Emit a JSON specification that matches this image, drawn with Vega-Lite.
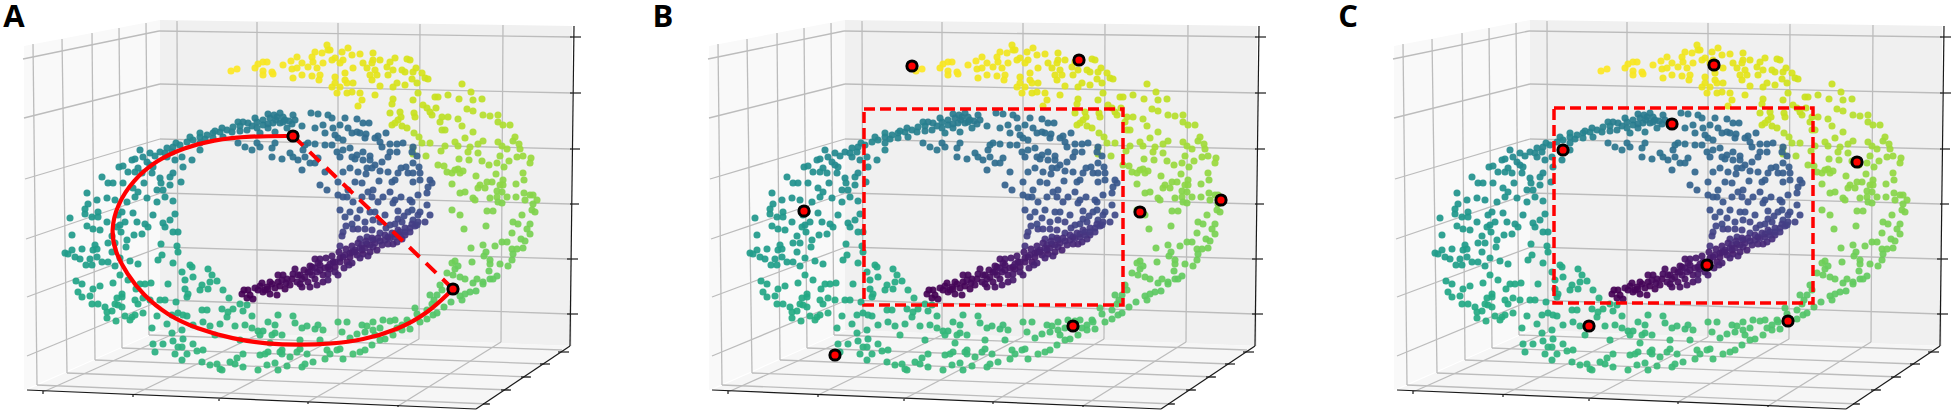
{"$schema":"https://vega.github.io/schema/vega-lite/v6.json","padding":0,"spacing":0,"background":"white","config":{"view":{"stroke":null}},
"datasets":{
"panes":[
{"pane":"left","x":24,"y":46,"y2":390},{"pane":"left","x":160,"y":20,"y2":330},
{"pane":"back","x":160,"y":20,"y2":330},{"pane":"back","x":572,"y":26,"y2":346},
{"pane":"floor","x":27,"y":390,"y2":390},{"pane":"floor","x":162,"y":330,"y2":396},{"pane":"floor","x":476,"y":342,"y2":409},{"pane":"floor","x":570,"y":346,"y2":346}],
"grid":[
{"x":159,"y":31,"x2":572,"y2":37},{"x":160,"y":84,"x2":572,"y2":93},{"x":160,"y":139,"x2":571,"y2":149},{"x":160,"y":193,"x2":571,"y2":204},{"x":161,"y":247,"x2":570,"y2":259},{"x":162,"y":300,"x2":570,"y2":314},
{"x":177,"y":21,"x2":178,"y2":332},{"x":257,"y":22,"x2":257,"y2":335},{"x":338,"y":23,"x2":338,"y2":337},{"x":420,"y":24,"x2":419,"y2":339},{"x":503,"y":25,"x2":501,"y2":342},
{"x":159,"y":31,"x2":23,"y2":59},{"x":160,"y":84,"x2":24,"y2":118},{"x":160,"y":139,"x2":25,"y2":179},{"x":161,"y":193,"x2":26,"y2":239},{"x":161,"y":247,"x2":27,"y2":297},{"x":162,"y":300,"x2":27,"y2":356},
{"x":33,"y":44,"x2":37,"y2":385},{"x":62,"y":39,"x2":67,"y2":373},{"x":92,"y":33,"x2":95,"y2":360},{"x":119,"y":28,"x2":122,"y2":348},{"x":146,"y":23,"x2":149,"y2":335},
{"x":43,"y":392,"x2":178,"y2":332},{"x":133,"y":395,"x2":257,"y2":335},{"x":219,"y":399,"x2":338,"y2":337},{"x":308,"y":402,"x2":419,"y2":339},{"x":398,"y":406,"x2":501,"y2":342},
{"x":149,"y":335,"x2":562,"y2":350},{"x":122,"y":348,"x2":545,"y2":364},{"x":95,"y":360,"x2":530,"y2":377},{"x":67,"y":373,"x2":510,"y2":390},{"x":37,"y":385,"x2":489,"y2":404}],
"axes":[
{"x":27,"y":390,"x2":476,"y2":409},{"x":476,"y":409,"x2":570,"y2":346},{"x":570,"y":346,"x2":574,"y2":26},
{"x":570,"y":37,"x2":581,"y2":37},{"x":570,"y":93,"x2":581,"y2":93},{"x":570,"y":149,"x2":580,"y2":149},{"x":570,"y":204,"x2":579,"y2":204},{"x":567,"y":259,"x2":578,"y2":259},{"x":567,"y":314,"x2":578,"y2":314},
{"x":558,"y":352,"x2":569,"y2":352},{"x":540,"y":364,"x2":550,"y2":364},{"x":521,"y":377,"x2":531,"y2":377},{"x":501,"y":390,"x2":511,"y2":390},{"x":483,"y":404,"x2":490,"y2":404},
{"x":43,"y":391,"x2":43,"y2":394},{"x":133,"y":395,"x2":133,"y2":397},{"x":219,"y":399,"x2":219,"y2":401},{"x":308,"y":402,"x2":308,"y2":404},{"x":398,"y":405,"x2":398,"y2":407}],
"swiss":[
{"x":231,"y":71,"t":1},{"x":237,"y":69,"t":1},{"x":255,"y":68,"t":0.99},{"x":258,"y":64,"t":0.99},{"x":263,"y":62,"t":0.99},{"x":267,"y":62,"t":0.99},{"x":263,"y":71,"t":0.99},{"x":263,"y":75,"t":0.99},{"x":272,"y":72,"t":0.99},{"x":273,"y":74,"t":0.99},{"x":283,"y":65,"t":0.99},{"x":291,"y":61,"t":0.99},{"x":297,"y":57,"t":0.98},{"x":292,"y":69,"t":0.98},{"x":297,"y":68,"t":0.98},{"x":302,"y":63,"t":0.98},{"x":293,"y":78,"t":0.98},{"x":302,"y":75,"t":0.98},{"x":308,"y":67,"t":0.98},{"x":312,"y":57,"t":0.98},{"x":315,"y":52,"t":0.98},{"x":322,"y":53,"t":0.98},{"x":312,"y":76,"t":0.98},{"x":320,"y":75,"t":0.98},{"x":319,"y":80,"t":0.98},{"x":317,"y":68,"t":0.98},{"x":313,"y":62,"t":0.98},{"x":323,"y":63,"t":0.98},{"x":328,"y":50,"t":0.97},{"x":327,"y":45,"t":0.97},
{"x":348,"y":48,"t":0.97},{"x":342,"y":52,"t":0.97},{"x":335,"y":58,"t":0.97},{"x":343,"y":60,"t":0.97},{"x":352,"y":55,"t":0.97},{"x":360,"y":54,"t":0.97},{"x":363,"y":63,"t":0.96},{"x":367,"y":68,"t":0.96},{"x":373,"y":53,"t":0.96},{"x":373,"y":60,"t":0.96},{"x":380,"y":60,"t":0.96},{"x":372,"y":63,"t":0.96},{"x":375,"y":70,"t":0.96},{"x":370,"y":75,"t":0.96},{"x":372,"y":80,"t":0.96},{"x":377,"y":75,"t":0.96},{"x":387,"y":67,"t":0.95},{"x":390,"y":62,"t":0.95},{"x":395,"y":58,"t":0.95},{"x":393,"y":70,"t":0.95},{"x":388,"y":75,"t":0.95},{"x":407,"y":59,"t":0.94},{"x":410,"y":60,"t":0.94},{"x":402,"y":70,"t":0.94},{"x":405,"y":72,"t":0.94},{"x":416,"y":68,"t":0.94},{"x":413,"y":72,"t":0.94},{"x":422,"y":73,"t":0.94},{"x":412,"y":79,"t":0.94},{"x":417,"y":83,"t":0.93},{"x":425,"y":78,"t":0.93},{"x":428,"y":79,"t":0.93},{"x":397,"y":83,"t":0.94},{"x":393,"y":87,"t":0.94},{"x":405,"y":85,"t":0.94},{"x":380,"y":86,"t":0.95},{"x":375,"y":95,"t":0.95},{"x":347,"y":83,"t":0.97},{"x":345,"y":80,"t":0.97},{"x":335,"y":77,"t":0.97},{"x":335,"y":83,"t":0.97},{"x":337,"y":93,"t":0.97},{"x":347,"y":93,"t":0.96},{"x":353,"y":83,"t":0.96},{"x":352,"y":92,"t":0.96},{"x":360,"y":93,"t":0.96},{"x":362,"y":100,"t":0.96},{"x":358,"y":106,"t":0.96},{"x":345,"y":73,"t":0.97},{"x":353,"y":68,"t":0.97},{"x":332,"y":87,"t":0.97},{"x":340,"y":87,"t":0.97},{"x":332,"y":60,"t":0.97},{"x":340,"y":63,"t":0.97},{"x":330,"y":50,"t":0.97},
{"x":393,"y":99,"t":0.93},{"x":392,"y":104,"t":0.93},{"x":390,"y":113,"t":0.92},{"x":400,"y":112,"t":0.92},{"x":401,"y":117,"t":0.92},{"x":398,"y":120,"t":0.92},{"x":392,"y":125,"t":0.92},{"x":395,"y":123,"t":0.92},{"x":402,"y":126,"t":0.91},{"x":407,"y":128,"t":0.91},{"x":414,"y":113,"t":0.92},{"x":415,"y":117,"t":0.92},{"x":413,"y":100,"t":0.92},{"x":418,"y":93,"t":0.92},{"x":423,"y":105,"t":0.92},{"x":427,"y":108,"t":0.91},{"x":430,"y":112,"t":0.91},{"x":432,"y":115,"t":0.91},{"x":436,"y":108,"t":0.91},{"x":435,"y":97,"t":0.92},{"x":438,"y":97,"t":0.92},{"x":448,"y":95,"t":0.91},{"x":459,"y":99,"t":0.91},{"x":462,"y":84,"t":0.92},{"x":471,"y":92,"t":0.91},{"x":473,"y":100,"t":0.9},{"x":482,"y":99,"t":0.9},{"x":467,"y":109,"t":0.9},{"x":473,"y":111,"t":0.9},{"x":442,"y":117,"t":0.9},{"x":448,"y":117,"t":0.9},{"x":440,"y":122,"t":0.9},{"x":458,"y":119,"t":0.89},{"x":462,"y":126,"t":0.89},{"x":442,"y":130,"t":0.89},{"x":445,"y":130,"t":0.89},{"x":483,"y":115,"t":0.89},{"x":490,"y":116,"t":0.89},{"x":498,"y":115,"t":0.89},{"x":498,"y":122,"t":0.88},{"x":503,"y":125,"t":0.88},{"x":510,"y":125,"t":0.88},{"x":473,"y":132,"t":0.88},{"x":465,"y":138,"t":0.88},{"x":455,"y":142,"t":0.88},{"x":458,"y":146,"t":0.87},{"x":445,"y":146,"t":0.87},{"x":441,"y":151,"t":0.87},{"x":414,"y":133,"t":0.89},{"x":419,"y":137,"t":0.89},{"x":422,"y":143,"t":0.88},{"x":430,"y":143,"t":0.88},{"x":413,"y":148,"t":0.88},{"x":413,"y":154,"t":0.87},{"x":426,"y":156,"t":0.87},{"x":470,"y":147,"t":0.87},{"x":468,"y":152,"t":0.87},{"x":478,"y":144,"t":0.87},{"x":483,"y":141,"t":0.87},{"x":498,"y":142,"t":0.87},{"x":502,"y":146,"t":0.86},{"x":507,"y":149,"t":0.86},{"x":515,"y":137,"t":0.87},{"x":513,"y":141,"t":0.86},{"x":519,"y":144,"t":0.86},{"x":520,"y":149,"t":0.86},{"x":517,"y":157,"t":0.85},{"x":523,"y":156,"t":0.85},{"x":531,"y":158,"t":0.85},{"x":530,"y":163,"t":0.85},{"x":500,"y":156,"t":0.85},{"x":478,"y":153,"t":0.86},{"x":482,"y":161,"t":0.85},{"x":469,"y":160,"t":0.85},{"x":459,"y":159,"t":0.85},{"x":509,"y":161,"t":0.85},{"x":489,"y":165,"t":0.85},{"x":497,"y":163,"t":0.85},{"x":504,"y":167,"t":0.84},
{"x":438,"y":165,"t":0.85},{"x":444,"y":166,"t":0.85},{"x":447,"y":172,"t":0.84},{"x":452,"y":173,"t":0.84},{"x":455,"y":170,"t":0.84},{"x":458,"y":169,"t":0.84},{"x":463,"y":171,"t":0.84},{"x":460,"y":173,"t":0.84},{"x":476,"y":176,"t":0.84},{"x":496,"y":174,"t":0.84},{"x":523,"y":173,"t":0.84},{"x":524,"y":180,"t":0.83},{"x":452,"y":184,"t":0.83},{"x":480,"y":185,"t":0.83},{"x":487,"y":182,"t":0.83},{"x":492,"y":182,"t":0.83},{"x":485,"y":188,"t":0.83},{"x":478,"y":188,"t":0.83},{"x":503,"y":180,"t":0.83},{"x":500,"y":185,"t":0.83},{"x":503,"y":185,"t":0.83},{"x":497,"y":191,"t":0.82},{"x":502,"y":192,"t":0.82},{"x":516,"y":184,"t":0.83},{"x":460,"y":193,"t":0.82},{"x":465,"y":192,"t":0.82},{"x":473,"y":198,"t":0.82},{"x":475,"y":200,"t":0.82},{"x":490,"y":198,"t":0.82},{"x":497,"y":197,"t":0.82},{"x":507,"y":197,"t":0.82},{"x":516,"y":197,"t":0.82},{"x":524,"y":193,"t":0.82},{"x":530,"y":195,"t":0.82},{"x":533,"y":195,"t":0.82},{"x":537,"y":200,"t":0.82},{"x":525,"y":200,"t":0.82},{"x":533,"y":204,"t":0.81},{"x":498,"y":202,"t":0.81},{"x":502,"y":203,"t":0.81},
{"x":452,"y":210,"t":0.81},{"x":460,"y":215,"t":0.81},{"x":487,"y":211,"t":0.81},{"x":493,"y":211,"t":0.81},{"x":532,"y":210,"t":0.81},{"x":535,"y":212,"t":0.81},{"x":522,"y":215,"t":0.81},{"x":513,"y":222,"t":0.8},{"x":518,"y":224,"t":0.8},{"x":530,"y":224,"t":0.8},{"x":527,"y":229,"t":0.8},{"x":530,"y":234,"t":0.8},{"x":464,"y":229,"t":0.8},{"x":486,"y":226,"t":0.8},{"x":512,"y":233,"t":0.8},{"x":521,"y":239,"t":0.79},{"x":525,"y":241,"t":0.79},{"x":483,"y":245,"t":0.79},{"x":495,"y":246,"t":0.79},{"x":502,"y":242,"t":0.79},{"x":507,"y":242,"t":0.79},{"x":512,"y":249,"t":0.79},{"x":517,"y":249,"t":0.79},{"x":523,"y":248,"t":0.79},{"x":471,"y":248,"t":0.79},{"x":486,"y":252,"t":0.78},{"x":484,"y":256,"t":0.78},{"x":513,"y":254,"t":0.78},{"x":512,"y":260,"t":0.78},{"x":500,"y":264,"t":0.78},{"x":508,"y":266,"t":0.78},{"x":490,"y":260,"t":0.78},{"x":490,"y":264,"t":0.78},{"x":472,"y":262,"t":0.78},{"x":455,"y":261,"t":0.78},{"x":452,"y":263,"t":0.78},{"x":455,"y":269,"t":0.77},{"x":458,"y":266,"t":0.77},{"x":489,"y":271,"t":0.77},{"x":447,"y":273,"t":0.77},{"x":453,"y":275,"t":0.77},{"x":460,"y":277,"t":0.77},{"x":465,"y":279,"t":0.77},{"x":477,"y":279,"t":0.77},{"x":473,"y":283,"t":0.76},{"x":483,"y":282,"t":0.76},{"x":483,"y":284,"t":0.76},{"x":490,"y":279,"t":0.76},{"x":493,"y":279,"t":0.76},{"x":497,"y":276,"t":0.76},{"x":442,"y":290,"t":0.75},{"x":476,"y":291,"t":0.75},{"x":470,"y":292,"t":0.75},{"x":465,"y":294,"t":0.75},{"x":460,"y":296,"t":0.75},{"x":462,"y":300,"t":0.75},{"x":451,"y":302,"t":0.74},{"x":437,"y":295,"t":0.74},{"x":434,"y":300,"t":0.74},{"x":432,"y":304,"t":0.74},{"x":444,"y":307,"t":0.74},{"x":437,"y":313,"t":0.73},{"x":427,"y":310,"t":0.73},{"x":433,"y":315,"t":0.73},{"x":417,"y":314,"t":0.73},{"x":427,"y":319,"t":0.73},{"x":420,"y":322,"t":0.73},{"x":407,"y":320,"t":0.72},{"x":402,"y":325,"t":0.72},{"x":410,"y":329,"t":0.72},{"x":397,"y":328,"t":0.72},{"x":390,"y":321,"t":0.72},{"x":383,"y":320,"t":0.71},{"x":373,"y":322,"t":0.71},{"x":380,"y":328,"t":0.71},{"x":367,"y":326,"t":0.71},{"x":362,"y":325,"t":0.7},{"x":347,"y":322,"t":0.7},{"x":338,"y":322,"t":0.7},{"x":342,"y":332,"t":0.7},{"x":357,"y":334,"t":0.7},{"x":365,"y":332,"t":0.7},{"x":373,"y":330,"t":0.71},{"x":393,"y":335,"t":0.72},{"x":385,"y":339,"t":0.71},{"x":380,"y":340,"t":0.71},{"x":372,"y":345,"t":0.7},{"x":365,"y":350,"t":0.7},{"x":360,"y":352,"t":0.7},{"x":353,"y":354,"t":0.7},{"x":343,"y":359,"t":0.69},{"x":337,"y":350,"t":0.69},{"x":330,"y":354,"t":0.69},{"x":340,"y":349,"t":0.69},{"x":402,"y":330,"t":0.72},{"x":408,"y":322,"t":0.72},
{"x":327,"y":350,"t":0.69},{"x":325,"y":359,"t":0.69},{"x":313,"y":362,"t":0.68},{"x":302,"y":367,"t":0.68},{"x":297,"y":352,"t":0.68},{"x":307,"y":354,"t":0.68},{"x":287,"y":366,"t":0.68},{"x":278,"y":370,"t":0.67},{"x":275,"y":363,"t":0.67},{"x":267,"y":365,"t":0.67},{"x":258,"y":370,"t":0.67},{"x":260,"y":355,"t":0.67},{"x":268,"y":352,"t":0.67},{"x":280,"y":352,"t":0.67},{"x":282,"y":350,"t":0.67},{"x":243,"y":367,"t":0.66},{"x":235,"y":364,"t":0.66},{"x":237,"y":358,"t":0.66},{"x":222,"y":370,"t":0.66},{"x":217,"y":364,"t":0.66},{"x":210,"y":365,"t":0.66},{"x":202,"y":362,"t":0.65},{"x":203,"y":350,"t":0.65},{"x":197,"y":351,"t":0.65},{"x":187,"y":354,"t":0.64},{"x":182,"y":360,"t":0.64},{"x":175,"y":354,"t":0.64},{"x":178,"y":347,"t":0.64},{"x":182,"y":347,"t":0.64},{"x":193,"y":344,"t":0.64},{"x":173,"y":341,"t":0.63},{"x":163,"y":344,"t":0.63},{"x":153,"y":344,"t":0.63},{"x":155,"y":352,"t":0.63},{"x":172,"y":333,"t":0.63},{"x":182,"y":330,"t":0.63},{"x":183,"y":339,"t":0.63},{"x":152,"y":328,"t":0.62},{"x":167,"y":324,"t":0.62},{"x":157,"y":316,"t":0.62},{"x":178,"y":313,"t":0.62},{"x":183,"y":315,"t":0.62},{"x":187,"y":316,"t":0.62},{"x":203,"y":322,"t":0.63},{"x":210,"y":326,"t":0.64},{"x":220,"y":324,"t":0.64},{"x":202,"y":310,"t":0.63},{"x":207,"y":310,"t":0.63},{"x":222,"y":309,"t":0.63},{"x":227,"y":317,"t":0.64},{"x":228,"y":312,"t":0.64},{"x":233,"y":309,"t":0.64},{"x":243,"y":311,"t":0.64},{"x":247,"y":305,"t":0.64},{"x":240,"y":304,"t":0.64},{"x":252,"y":316,"t":0.65},{"x":235,"y":326,"t":0.65},{"x":245,"y":325,"t":0.65},{"x":252,"y":328,"t":0.66},{"x":258,"y":331,"t":0.66},{"x":263,"y":331,"t":0.66},{"x":268,"y":322,"t":0.66},{"x":275,"y":325,"t":0.66},{"x":278,"y":315,"t":0.66},{"x":293,"y":316,"t":0.67},{"x":295,"y":323,"t":0.67},{"x":302,"y":328,"t":0.68},{"x":307,"y":326,"t":0.68},{"x":315,"y":329,"t":0.68},{"x":318,"y":325,"t":0.68},{"x":323,"y":330,"t":0.69},{"x":260,"y":335,"t":0.66},{"x":272,"y":335,"t":0.67},{"x":275,"y":333,"t":0.67},{"x":282,"y":335,"t":0.67},{"x":290,"y":357,"t":0.68},{"x":305,"y":364,"t":0.68},{"x":300,"y":349,"t":0.68},{"x":282,"y":354,"t":0.67},{"x":265,"y":354,"t":0.67},{"x":230,"y":362,"t":0.66},{"x":243,"y":354,"t":0.66},{"x":220,"y":369,"t":0.66},
{"x":187,"y":297,"t":0.61},{"x":188,"y":294,"t":0.61},{"x":185,"y":289,"t":0.6},{"x":185,"y":280,"t":0.6},{"x":182,"y":272,"t":0.6},{"x":190,"y":265,"t":0.6},{"x":192,"y":267,"t":0.6},{"x":193,"y":277,"t":0.6},{"x":208,"y":269,"t":0.6},{"x":212,"y":275,"t":0.61},{"x":210,"y":282,"t":0.61},{"x":217,"y":281,"t":0.61},{"x":202,"y":285,"t":0.61},{"x":200,"y":290,"t":0.61},{"x":208,"y":289,"t":0.61},{"x":223,"y":290,"t":0.62},{"x":229,"y":298,"t":0.63},{"x":176,"y":302,"t":0.61},{"x":168,"y":284,"t":0.6},{"x":173,"y":263,"t":0.59},{"x":162,"y":255,"t":0.58},{"x":158,"y":260,"t":0.58},{"x":178,"y":252,"t":0.58},{"x":177,"y":246,"t":0.57},{"x":161,"y":244,"t":0.57},{"x":151,"y":283,"t":0.6},{"x":145,"y":284,"t":0.6},{"x":140,"y":284,"t":0.6},{"x":136,"y":289,"t":0.6},{"x":143,"y":298,"t":0.61},{"x":138,"y":304,"t":0.61},{"x":122,"y":294,"t":0.6},{"x":122,"y":297,"t":0.6},{"x":117,"y":298,"t":0.6},{"x":118,"y":305,"t":0.61},{"x":115,"y":304,"t":0.61},{"x":122,"y":307,"t":0.61},{"x":113,"y":283,"t":0.59},{"x":100,"y":286,"t":0.59},{"x":93,"y":289,"t":0.59},{"x":90,"y":296,"t":0.59},{"x":82,"y":284,"t":0.58},{"x":76,"y":281,"t":0.58},{"x":78,"y":292,"t":0.59},{"x":82,"y":297,"t":0.59},{"x":92,"y":304,"t":0.6},{"x":98,"y":304,"t":0.6},{"x":105,"y":307,"t":0.6},{"x":107,"y":312,"t":0.61},{"x":112,"y":311,"t":0.61},{"x":107,"y":318,"t":0.61},{"x":116,"y":321,"t":0.62},{"x":125,"y":316,"t":0.62},{"x":132,"y":317,"t":0.62},{"x":135,"y":315,"t":0.62},{"x":143,"y":313,"t":0.62},{"x":130,"y":320,"t":0.62},
{"x":138,"y":264,"t":0.57},{"x":130,"y":261,"t":0.57},{"x":126,"y":247,"t":0.56},{"x":115,"y":266,"t":0.56},{"x":108,"y":262,"t":0.56},{"x":102,"y":262,"t":0.56},{"x":97,"y":257,"t":0.55},{"x":93,"y":250,"t":0.55},{"x":95,"y":245,"t":0.55},{"x":97,"y":249,"t":0.55},{"x":90,"y":259,"t":0.55},{"x":86,"y":265,"t":0.56},{"x":92,"y":265,"t":0.56},{"x":82,"y":249,"t":0.55},{"x":80,"y":259,"t":0.55},{"x":75,"y":257,"t":0.55},{"x":72,"y":250,"t":0.55},{"x":65,"y":253,"t":0.55},{"x":68,"y":254,"t":0.55},{"x":72,"y":235,"t":0.54},{"x":70,"y":218,"t":0.53},{"x":85,"y":214,"t":0.53},{"x":87,"y":226,"t":0.54},{"x":93,"y":229,"t":0.54},{"x":100,"y":230,"t":0.54},{"x":92,"y":217,"t":0.53},{"x":98,"y":217,"t":0.53},{"x":85,"y":209,"t":0.53},{"x":98,"y":212,"t":0.53},{"x":107,"y":222,"t":0.53},{"x":117,"y":227,"t":0.54},{"x":121,"y":232,"t":0.54},{"x":127,"y":240,"t":0.55},{"x":134,"y":235,"t":0.54},{"x":142,"y":234,"t":0.54},{"x":125,"y":222,"t":0.53},{"x":137,"y":222,"t":0.53},{"x":148,"y":227,"t":0.54},{"x":145,"y":224,"t":0.53},{"x":153,"y":215,"t":0.52},{"x":133,"y":213,"t":0.52},{"x":122,"y":212,"t":0.52},{"x":163,"y":223,"t":0.53},{"x":165,"y":227,"t":0.53},{"x":170,"y":220,"t":0.53},{"x":175,"y":214,"t":0.52},{"x":178,"y":232,"t":0.54},{"x":173,"y":232,"t":0.54},{"x":108,"y":243,"t":0.55},{"x":112,"y":252,"t":0.55},{"x":120,"y":258,"t":0.56},{"x":118,"y":215,"t":0.52},
{"x":87,"y":193,"t":0.51},{"x":102,"y":177,"t":0.5},{"x":108,"y":183,"t":0.5},{"x":113,"y":183,"t":0.5},{"x":107,"y":198,"t":0.51},{"x":97,"y":200,"t":0.51},{"x":88,"y":204,"t":0.52},{"x":123,"y":183,"t":0.5},{"x":119,"y":167,"t":0.49},{"x":123,"y":166,"t":0.49},{"x":132,"y":160,"t":0.48},{"x":135,"y":159,"t":0.48},{"x":138,"y":168,"t":0.48},{"x":135,"y":172,"t":0.49},{"x":142,"y":173,"t":0.49},{"x":152,"y":173,"t":0.48},{"x":153,"y":167,"t":0.48},{"x":147,"y":162,"t":0.47},{"x":150,"y":153,"t":0.47},{"x":143,"y":157,"t":0.47},{"x":160,"y":178,"t":0.48},{"x":170,"y":177,"t":0.48},{"x":173,"y":173,"t":0.47},{"x":181,"y":182,"t":0.48},{"x":170,"y":185,"t":0.49},{"x":161,"y":183,"t":0.49},{"x":133,"y":188,"t":0.5},{"x":144,"y":183,"t":0.49},{"x":138,"y":192,"t":0.5},{"x":147,"y":198,"t":0.5},{"x":157,"y":190,"t":0.49},{"x":163,"y":190,"t":0.49},{"x":157,"y":202,"t":0.51},{"x":173,"y":201,"t":0.5},{"x":165,"y":197,"t":0.5},{"x":127,"y":202,"t":0.51},{"x":135,"y":197,"t":0.51},
{"x":160,"y":152,"t":0.46},{"x":167,"y":148,"t":0.46},{"x":173,"y":147,"t":0.45},{"x":180,"y":145,"t":0.45},{"x":187,"y":142,"t":0.45},{"x":193,"y":140,"t":0.45},{"x":200,"y":137,"t":0.44},{"x":207,"y":135,"t":0.44},{"x":213,"y":133,"t":0.44},{"x":220,"y":132,"t":0.44},{"x":227,"y":130,"t":0.43},{"x":233,"y":127,"t":0.43},{"x":240,"y":126,"t":0.43},{"x":248,"y":123,"t":0.42},{"x":257,"y":122,"t":0.42},{"x":263,"y":120,"t":0.42},{"x":270,"y":118,"t":0.41},{"x":277,"y":117,"t":0.41},{"x":283,"y":117,"t":0.41},{"x":273,"y":123,"t":0.41},{"x":257,"y":128,"t":0.42},{"x":263,"y":125,"t":0.42},{"x":280,"y":123,"t":0.41},{"x":283,"y":122,"t":0.41},{"x":293,"y":115,"t":0.4},{"x":295,"y":120,"t":0.4},{"x":287,"y":128,"t":0.41},{"x":275,"y":132,"t":0.41},{"x":260,"y":133,"t":0.42},{"x":247,"y":130,"t":0.42},{"x":182,"y":157,"t":0.46},{"x":175,"y":160,"t":0.46},{"x":192,"y":160,"t":0.46},{"x":200,"y":150,"t":0.45},{"x":183,"y":167,"t":0.47},{"x":200,"y":143,"t":0.44},{"x":213,"y":138,"t":0.44},{"x":223,"y":137,"t":0.43},{"x":167,"y":157,"t":0.46},{"x":240,"y":131,"t":0.42},{"x":232,"y":132,"t":0.43},{"x":205,"y":139,"t":0.44},{"x":268,"y":124,"t":0.41},{"x":252,"y":126,"t":0.42},{"x":276,"y":120,"t":0.41},{"x":289,"y":121,"t":0.4},
{"x":215,"y":131,"t":0.44},{"x":222,"y":128,"t":0.43},{"x":243,"y":122,"t":0.42},{"x":268,"y":114,"t":0.41},{"x":274,"y":115,"t":0.41},{"x":255,"y":118,"t":0.42},{"x":280,"y":113,"t":0.41},{"x":285,"y":120,"t":0.41},{"x":292,"y":124,"t":0.4},{"x":268,"y":128,"t":0.41},{"x":238,"y":122,"t":0.43},{"x":200,"y":133,"t":0.45},{"x":190,"y":137,"t":0.45},{"x":176,"y":143,"t":0.46},{"x":165,"y":153,"t":0.46},{"x":155,"y":156,"t":0.47},{"x":150,"y":165,"t":0.47},{"x":172,"y":152,"t":0.46},
{"x":120,"y":225,"t":0.53},{"x":112,"y":236,"t":0.54},{"x":115,"y":243,"t":0.55},{"x":120,"y":275,"t":0.59},{"x":128,"y":280,"t":0.59},{"x":135,"y":300,"t":0.61},{"x":150,"y":300,"t":0.61},{"x":160,"y":300,"t":0.61},{"x":115,"y":200,"t":0.51},{"x":128,"y":172,"t":0.49},{"x":140,"y":150,"t":0.47},{"x":165,"y":300,"t":0.61},{"x":172,"y":315,"t":0.62},{"x":193,"y":325,"t":0.63},{"x":215,"y":335,"t":0.65},{"x":240,"y":340,"t":0.65},{"x":270,"y":343,"t":0.67},{"x":300,"y":340,"t":0.68},{"x":320,"y":340,"t":0.68},{"x":350,"y":338,"t":0.69},{"x":375,"y":335,"t":0.71},{"x":395,"y":320,"t":0.72},{"x":415,"y":308,"t":0.73},{"x":440,"y":285,"t":0.75},{"x":430,"y":295,"t":0.74},
{"x":238,"y":143,"t":0.39},{"x":245,"y":147,"t":0.39},{"x":252,"y":150,"t":0.39},{"x":260,"y":147,"t":0.38},{"x":257,"y":143,"t":0.38},{"x":272,"y":148,"t":0.38},{"x":275,"y":143,"t":0.38},{"x":272,"y":157,"t":0.37},{"x":282,"y":159,"t":0.37},{"x":290,"y":153,"t":0.37},{"x":293,"y":157,"t":0.37},{"x":298,"y":160,"t":0.36},{"x":311,"y":113,"t":0.39},{"x":318,"y":114,"t":0.39},{"x":328,"y":115,"t":0.39},{"x":323,"y":125,"t":0.38},{"x":315,"y":128,"t":0.38},{"x":302,"y":126,"t":0.39},{"x":305,"y":145,"t":0.37},{"x":308,"y":143,"t":0.37},{"x":315,"y":144,"t":0.37},{"x":325,"y":133,"t":0.37},{"x":325,"y":145,"t":0.36},{"x":303,"y":150,"t":0.36},{"x":305,"y":157,"t":0.36},{"x":310,"y":163,"t":0.35},{"x":315,"y":163,"t":0.35},{"x":318,"y":158,"t":0.35},{"x":302,"y":170,"t":0.34},{"x":325,"y":172,"t":0.33},{"x":320,"y":185,"t":0.31},{"x":327,"y":190,"t":0.3},
{"x":332,"y":118,"t":0.38},{"x":345,"y":118,"t":0.37},{"x":357,"y":119,"t":0.36},{"x":363,"y":123,"t":0.36},{"x":369,"y":123,"t":0.36},{"x":340,"y":125,"t":0.37},{"x":348,"y":128,"t":0.36},{"x":333,"y":128,"t":0.37},{"x":352,"y":133,"t":0.35},{"x":357,"y":132,"t":0.35},{"x":360,"y":133,"t":0.35},{"x":366,"y":134,"t":0.35},{"x":365,"y":138,"t":0.34},{"x":386,"y":133,"t":0.34},{"x":378,"y":136,"t":0.34},{"x":380,"y":142,"t":0.33},{"x":375,"y":138,"t":0.34},{"x":390,"y":144,"t":0.33},{"x":397,"y":144,"t":0.33},{"x":403,"y":143,"t":0.33},{"x":382,"y":147,"t":0.33},{"x":397,"y":152,"t":0.32},{"x":390,"y":152,"t":0.32},{"x":413,"y":147,"t":0.32},{"x":412,"y":152,"t":0.32},{"x":417,"y":156,"t":0.31},{"x":343,"y":140,"t":0.35},{"x":335,"y":135,"t":0.36},{"x":338,"y":138,"t":0.36},{"x":332,"y":145,"t":0.35},{"x":350,"y":148,"t":0.34},{"x":337,"y":152,"t":0.34},{"x":343,"y":150,"t":0.34},{"x":340,"y":157,"t":0.33},{"x":357,"y":155,"t":0.33},{"x":363,"y":152,"t":0.33},{"x":370,"y":156,"t":0.32},{"x":352,"y":157,"t":0.33},{"x":355,"y":159,"t":0.33},{"x":363,"y":160,"t":0.32},{"x":370,"y":160,"t":0.32},{"x":388,"y":157,"t":0.31},{"x":382,"y":162,"t":0.31},{"x":375,"y":165,"t":0.31},{"x":367,"y":168,"t":0.31},{"x":372,"y":168,"t":0.31},{"x":350,"y":168,"t":0.32},{"x":343,"y":172,"t":0.32},{"x":358,"y":172,"t":0.31},{"x":380,"y":171,"t":0.3},{"x":388,"y":172,"t":0.3},{"x":406,"y":167,"t":0.3},{"x":413,"y":163,"t":0.3},{"x":419,"y":167,"t":0.29},{"x":401,"y":168,"t":0.3},{"x":398,"y":173,"t":0.29},{"x":408,"y":173,"t":0.29},{"x":413,"y":173,"t":0.29},{"x":420,"y":173,"t":0.28},{"x":420,"y":180,"t":0.28},{"x":413,"y":182,"t":0.28},{"x":392,"y":182,"t":0.29},{"x":395,"y":180,"t":0.29},{"x":379,"y":181,"t":0.29},{"x":366,"y":174,"t":0.3},{"x":362,"y":183,"t":0.29},{"x":348,"y":190,"t":0.29},{"x":355,"y":182,"t":0.3},{"x":338,"y":182,"t":0.3},{"x":430,"y":180,"t":0.27},{"x":432,"y":183,"t":0.27},{"x":428,"y":187,"t":0.27},{"x":427,"y":193,"t":0.26},{"x":418,"y":195,"t":0.26},{"x":373,"y":190,"t":0.27},{"x":368,"y":192,"t":0.27},{"x":372,"y":197,"t":0.26},{"x":362,"y":197,"t":0.27},{"x":347,"y":197,"t":0.28},{"x":338,"y":195,"t":0.28},{"x":343,"y":197,"t":0.28},{"x":390,"y":192,"t":0.26},{"x":383,"y":197,"t":0.26},{"x":395,"y":200,"t":0.25},{"x":401,"y":197,"t":0.25},{"x":412,"y":202,"t":0.25},{"x":410,"y":200,"t":0.25},{"x":393,"y":203,"t":0.25},{"x":353,"y":202,"t":0.27},{"x":427,"y":205,"t":0.24},{"x":378,"y":202,"t":0.25},
{"x":340,"y":210,"t":0.25},{"x":345,"y":217,"t":0.24},{"x":357,"y":218,"t":0.23},{"x":365,"y":222,"t":0.22},{"x":373,"y":220,"t":0.22},{"x":398,"y":211,"t":0.23},{"x":408,"y":212,"t":0.23},{"x":420,"y":212,"t":0.23},{"x":430,"y":215,"t":0.22},{"x":413,"y":220,"t":0.21},{"x":417,"y":225,"t":0.2},{"x":398,"y":219,"t":0.21},{"x":402,"y":222,"t":0.2},{"x":395,"y":224,"t":0.2},{"x":343,"y":232,"t":0.2},{"x":342,"y":236,"t":0.19},{"x":353,"y":229,"t":0.19},{"x":358,"y":229,"t":0.19},{"x":365,"y":229,"t":0.19},{"x":372,"y":230,"t":0.18},{"x":380,"y":233,"t":0.17},{"x":388,"y":237,"t":0.15},{"x":395,"y":234,"t":0.16},{"x":400,"y":232,"t":0.17},{"x":405,"y":235,"t":0.15},{"x":410,"y":232,"t":0.16},{"x":402,"y":239,"t":0.13},{"x":397,"y":242,"t":0.12},{"x":393,"y":244,"t":0.11},{"x":367,"y":237,"t":0.16},{"x":360,"y":239,"t":0.15},{"x":373,"y":240,"t":0.14},{"x":367,"y":244,"t":0.12},{"x":362,"y":245,"t":0.12},{"x":340,"y":246,"t":0.15},{"x":355,"y":250,"t":0.1},{"x":352,"y":252,"t":0.09},{"x":362,"y":250,"t":0.1},{"x":373,"y":247,"t":0.11},{"x":382,"y":245,"t":0.11},{"x":388,"y":244,"t":0.11},{"x":377,"y":250,"t":0.09},{"x":370,"y":252,"t":0.09},{"x":363,"y":254,"t":0.08},{"x":357,"y":255,"t":0.08},{"x":350,"y":257,"t":0.07},{"x":343,"y":257,"t":0.08},{"x":340,"y":262,"t":0.06},{"x":347,"y":262,"t":0.06},{"x":333,"y":262,"t":0.06},{"x":330,"y":269,"t":0.05},{"x":335,"y":267,"t":0.05},
{"x":375,"y":212,"t":0.24},{"x":385,"y":215,"t":0.23},{"x":350,"y":212,"t":0.25},{"x":360,"y":210,"t":0.25},{"x":390,"y":225,"t":0.2},{"x":380,"y":222,"t":0.2},{"x":412,"y":210,"t":0.24},{"x":425,"y":222,"t":0.2},{"x":418,"y":215,"t":0.22},{"x":370,"y":212,"t":0.24},{"x":352,"y":224,"t":0.22},{"x":346,"y":226,"t":0.21},{"x":386,"y":228,"t":0.19},{"x":404,"y":216,"t":0.22},
{"x":328,"y":267,"t":0.05},{"x":320,"y":259,"t":0.06},{"x":315,"y":259,"t":0.05},{"x":320,"y":265,"t":0.05},{"x":312,"y":267,"t":0.04},{"x":308,"y":272,"t":0.04},{"x":302,"y":287,"t":0.03},{"x":302,"y":279,"t":0.03},{"x":308,"y":282,"t":0.03},{"x":315,"y":279,"t":0.04},{"x":323,"y":275,"t":0.05},{"x":295,"y":269,"t":0.03},{"x":293,"y":274,"t":0.03},{"x":287,"y":279,"t":0.02},{"x":283,"y":275,"t":0.02},{"x":278,"y":275,"t":0.02},{"x":290,"y":285,"t":0.02},{"x":285,"y":289,"t":0.01},{"x":278,"y":282,"t":0.01},{"x":272,"y":284,"t":0.01},{"x":267,"y":287,"t":0.01},{"x":260,"y":286,"t":0.01},{"x":265,"y":290,"t":0.01},{"x":277,"y":295,"t":0.01},{"x":270,"y":294,"t":0.01},{"x":263,"y":292,"t":0.01},{"x":248,"y":290,"t":0},{"x":242,"y":294,"t":0},{"x":247,"y":298,"t":0},{"x":253,"y":299,"t":0},{"x":300,"y":284,"t":0.03},{"x":317,"y":272,"t":0.05},{"x":328,"y":274,"t":0.06},{"x":323,"y":282,"t":0.05},{"x":312,"y":275,"t":0.04},{"x":297,"y":282,"t":0.03},{"x":310,"y":287,"t":0.04},{"x":317,"y":285,"t":0.05},{"x":335,"y":272,"t":0.07},{"x":344,"y":268,"t":0.08},{"x":352,"y":263,"t":0.09},{"x":328,"y":280,"t":0.07},{"x":338,"y":275,"t":0.08},{"x":360,"y":258,"t":0.1},{"x":368,"y":256,"t":0.1},{"x":349,"y":265,"t":0.09},
{"x":300,"y":275,"t":0.03},{"x":305,"y":277,"t":0.03},{"x":310,"y":272,"t":0.04},{"x":315,"y":268,"t":0.05},{"x":320,"y":270,"t":0.05},{"x":325,"y":268,"t":0.05},{"x":330,"y":264,"t":0.06},{"x":335,"y":262,"t":0.06},{"x":340,"y":258,"t":0.07},{"x":345,"y":255,"t":0.08},{"x":350,"y":253,"t":0.08},{"x":355,"y":252,"t":0.09},{"x":360,"y":248,"t":0.1},{"x":365,"y":248,"t":0.1},{"x":370,"y":245,"t":0.11},{"x":375,"y":243,"t":0.11},{"x":380,"y":241,"t":0.12},{"x":385,"y":240,"t":0.12},{"x":390,"y":238,"t":0.13},{"x":395,"y":237,"t":0.14},{"x":400,"y":235,"t":0.15},{"x":405,"y":232,"t":0.16},{"x":410,"y":228,"t":0.17},{"x":415,"y":226,"t":0.18},{"x":418,"y":222,"t":0.19},{"x":412,"y":224,"t":0.18},{"x":405,"y":228,"t":0.17},{"x":398,"y":230,"t":0.16},{"x":392,"y":233,"t":0.15},{"x":385,"y":235,"t":0.14},{"x":378,"y":238,"t":0.13},{"x":372,"y":238,"t":0.13},{"x":366,"y":241,"t":0.12},{"x":358,"y":243,"t":0.11},{"x":352,"y":246,"t":0.1},{"x":346,"y":249,"t":0.09},{"x":339,"y":252,"t":0.08},{"x":332,"y":256,"t":0.07},{"x":326,"y":258,"t":0.06},{"x":318,"y":263,"t":0.05},{"x":310,"y":266,"t":0.04},{"x":304,"y":270,"t":0.03},{"x":298,"y":275,"t":0.03},{"x":292,"y":279,"t":0.02},{"x":286,"y":283,"t":0.02},{"x":280,"y":286,"t":0.01},{"x":275,"y":288,"t":0.01},{"x":282,"y":280,"t":0.02},{"x":270,"y":282,"t":0.01},{"x":258,"y":290,"t":0.01},{"x":255,"y":288,"t":0.01},{"x":250,"y":295,"t":0},{"x":244,"y":290,"t":0},{"x":262,"y":283,"t":0.01},{"x":268,"y":289,"t":0.01}],
"dots":[
{"panel":"A","x":293,"y":136},{"panel":"A","x":453,"y":289},
{"panel":"B","x":227,"y":66},{"panel":"B","x":394,"y":60},{"panel":"B","x":119,"y":211},{"panel":"B","x":455,"y":212},{"panel":"B","x":536,"y":200},{"panel":"B","x":388,"y":326},{"panel":"B","x":150,"y":355},
{"panel":"C","x":344,"y":65},{"panel":"C","x":302,"y":124},{"panel":"C","x":193,"y":150},{"panel":"C","x":487,"y":162},{"panel":"C","x":337,"y":265},{"panel":"C","x":219,"y":326},{"panel":"C","x":418,"y":321}],
"boxes":[{"panel":"B","x":179,"x2":438,"y":109,"y2":305},{"panel":"C","x":184,"x2":443,"y":108,"y2":303}],
"labels":[{"panel":"A","label":"A","x":14,"y":18},{"panel":"B","label":"B","x":-22,"y":18},{"panel":"C","label":"C","x":-22,"y":18}],
"curve":[{"o":1,"x":293,"y":136},{"o":2,"x":250,"y":136},{"o":3,"x":213,"y":140},{"o":4,"x":183,"y":148},{"o":5,"x":157,"y":160},{"o":6,"x":133,"y":180},{"o":7,"x":117,"y":205},{"o":8,"x":111,"y":230},{"o":9,"x":115,"y":252},{"o":10,"x":127,"y":274},{"o":11,"x":143,"y":295},{"o":12,"x":167,"y":315},{"o":13,"x":197,"y":329},{"o":14,"x":233,"y":339},{"o":15,"x":267,"y":344},{"o":16,"x":300,"y":345},{"o":17,"x":330,"y":344},{"o":18,"x":363,"y":340},{"o":19,"x":397,"y":330},{"o":20,"x":427,"y":314},{"o":21,"x":453,"y":289}],
"chord":[{"o":1,"x":293,"y":136},{"o":2,"x":453,"y":289}]
},
"hconcat":[
{"width":640,"height":414,
"encoding":{"x":{"field":"x","type":"quantitative","axis":null,"scale":{"domain":[0,640],"nice":false,"zero":false}},"y":{"field":"y","type":"quantitative","axis":null,"scale":{"domain":[414,0],"nice":false,"zero":false}}},
"layer":[
{"data":{"name":"panes"},"mark":{"type":"area","opacity":1},"encoding":{"y2":{"field":"y2"},"color":{"field":"pane","type":"nominal","legend":null,"scale":{"domain":["left","back","floor"],"range":["#f9f9f9","#f0f0f0","#f6f6f6"]}}}},
{"data":{"name":"grid"},"mark":{"type":"rule","color":"#bcbcbc","strokeWidth":1.3},"encoding":{"x2":{"field":"x2"},"y2":{"field":"y2"}}},
{"data":{"name":"axes"},"mark":{"type":"rule","color":"#1a1a1a","strokeWidth":1.2},"encoding":{"x2":{"field":"x2"},"y2":{"field":"y2"}}},
{"data":{"name":"swiss"},"mark":{"type":"circle","size":50,"opacity":0.92},"encoding":{"color":{"field":"t","type":"quantitative","legend":null,"scale":{"scheme":"viridis","domain":[0,1]}}}},
{"data":{"name":"curve"},"mark":{"type":"line","color":"#ff0000","strokeWidth":4.2,"interpolate":"basis"},"encoding":{"order":{"field":"o","type":"quantitative"}}},
{"data":{"name":"chord"},"mark":{"type":"line","color":"#ff0000","strokeWidth":4,"strokeDash":[14,9]},"encoding":{"order":{"field":"o","type":"quantitative"}}},
{"data":{"name":"dots"},"transform":[{"filter":"datum.panel==='A'"}],"mark":{"type":"point","filled":true,"fill":"#ff0000","stroke":"#000000","strokeWidth":3,"size":105,"opacity":1}},
{"data":{"name":"labels"},"transform":[{"filter":"datum.panel==='A'"}],"mark":{"type":"text","font":"Open Sans","fontWeight":"bold","fontSize":31,"color":"#000000","align":"center","baseline":"middle"},"encoding":{"text":{"field":"label"}}}
]},
{"width":685,"height":414,
"encoding":{"x":{"field":"x","type":"quantitative","axis":null,"scale":{"domain":[-45,640],"nice":false,"zero":false}},"y":{"field":"y","type":"quantitative","axis":null,"scale":{"domain":[414,0],"nice":false,"zero":false}}},
"layer":[
{"data":{"name":"panes"},"mark":{"type":"area","opacity":1},"encoding":{"y2":{"field":"y2"},"color":{"field":"pane","type":"nominal","legend":null,"scale":{"domain":["left","back","floor"],"range":["#f9f9f9","#f0f0f0","#f6f6f6"]}}}},
{"data":{"name":"grid"},"mark":{"type":"rule","color":"#bcbcbc","strokeWidth":1.3},"encoding":{"x2":{"field":"x2"},"y2":{"field":"y2"}}},
{"data":{"name":"axes"},"mark":{"type":"rule","color":"#1a1a1a","strokeWidth":1.2},"encoding":{"x2":{"field":"x2"},"y2":{"field":"y2"}}},
{"data":{"name":"swiss"},"mark":{"type":"circle","size":50,"opacity":0.92},"encoding":{"color":{"field":"t","type":"quantitative","legend":null,"scale":{"scheme":"viridis","domain":[0,1]}}}},
{"data":{"name":"boxes"},"transform":[{"filter":"datum.panel==='B'"}],"mark":{"type":"rect","fillOpacity":0,"stroke":"#ff0000","strokeWidth":3.5,"strokeDash":[11,5]},"encoding":{"x2":{"field":"x2"},"y2":{"field":"y2"}}},
{"data":{"name":"dots"},"transform":[{"filter":"datum.panel==='B'"}],"mark":{"type":"point","filled":true,"fill":"#ff0000","stroke":"#000000","strokeWidth":3,"size":105,"opacity":1}},
{"data":{"name":"labels"},"transform":[{"filter":"datum.panel==='B'"}],"mark":{"type":"text","font":"Open Sans","fontWeight":"bold","fontSize":31,"color":"#000000","align":"center","baseline":"middle"},"encoding":{"text":{"field":"label"}}}
]},
{"width":632,"height":414,
"encoding":{"x":{"field":"x","type":"quantitative","axis":null,"scale":{"domain":[-45,587],"nice":false,"zero":false}},"y":{"field":"y","type":"quantitative","axis":null,"scale":{"domain":[414,0],"nice":false,"zero":false}}},
"layer":[
{"data":{"name":"panes"},"mark":{"type":"area","opacity":1},"encoding":{"y2":{"field":"y2"},"color":{"field":"pane","type":"nominal","legend":null,"scale":{"domain":["left","back","floor"],"range":["#f9f9f9","#f0f0f0","#f6f6f6"]}}}},
{"data":{"name":"grid"},"mark":{"type":"rule","color":"#bcbcbc","strokeWidth":1.3},"encoding":{"x2":{"field":"x2"},"y2":{"field":"y2"}}},
{"data":{"name":"axes"},"mark":{"type":"rule","color":"#1a1a1a","strokeWidth":1.2},"encoding":{"x2":{"field":"x2"},"y2":{"field":"y2"}}},
{"data":{"name":"swiss"},"mark":{"type":"circle","size":50,"opacity":0.92},"encoding":{"color":{"field":"t","type":"quantitative","legend":null,"scale":{"scheme":"viridis","domain":[0,1]}}}},
{"data":{"name":"boxes"},"transform":[{"filter":"datum.panel==='C'"}],"mark":{"type":"rect","fillOpacity":0,"stroke":"#ff0000","strokeWidth":3.5,"strokeDash":[11,5]},"encoding":{"x2":{"field":"x2"},"y2":{"field":"y2"}}},
{"data":{"name":"dots"},"transform":[{"filter":"datum.panel==='C'"}],"mark":{"type":"point","filled":true,"fill":"#ff0000","stroke":"#000000","strokeWidth":3,"size":105,"opacity":1}},
{"data":{"name":"labels"},"transform":[{"filter":"datum.panel==='C'"}],"mark":{"type":"text","font":"Open Sans","fontWeight":"bold","fontSize":31,"color":"#000000","align":"center","baseline":"middle"},"encoding":{"text":{"field":"label"}}}
]}
]}
